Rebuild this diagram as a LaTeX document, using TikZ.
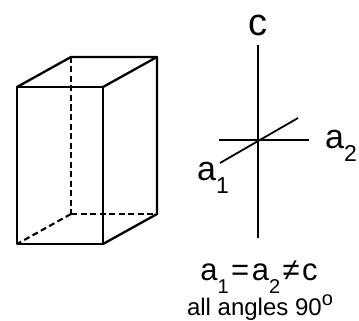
\documentclass[tikz,border=0pt]{standalone}
\usepackage{fontspec}
\setmainfont{Liberation Sans}
\usepackage{tikz}
\newcommand{\axsub}[3]{#1\raisebox{-0.4em}{\fontsize{#2}{#2}\selectfont #3}}

\begin{document}
\begin{tikzpicture}[x=1pt,y=-1pt,
  edge/.style={line width=2.3pt,black},
  hidden/.style={line width=2.1pt,black,dash pattern=on 6pt off 3.5pt},
  axis/.style={line width=1.8pt,black},
  lab/.style={inner sep=0pt,black,font=\fontsize{34}{34}\selectfont}]
  \useasboundingbox (0,0) rectangle (359,321);
  % box corners
  \coordinate (ftl) at (17,87);
  \coordinate (ftr) at (103,87);
  \coordinate (btl) at (71,57);
  \coordinate (btr) at (157,57);
  \coordinate (fbl) at (17,244);
  \coordinate (fbr) at (103,244);
  \coordinate (bbl) at (71,214);
  \coordinate (bbr) at (157,214);
  \draw[hidden] (btl) -- (bbl);
  \draw[hidden] (bbl) -- (bbr);
  \draw[hidden] (bbl) -- (fbl);
  \draw[edge,line join=round] (ftl) -- (ftr) -- (fbr) -- (fbl) -- cycle;
  \draw[edge,line join=round] (ftl) -- (btl) -- (btr) -- (ftr);
  \draw[edge,line join=round] (btr) -- (bbr) -- (fbr);
  % axes
  \node[lab,font=\fontsize{38}{38}\selectfont] (c) at (258,25) {c};
  \node[lab] (a2) at (341,146) {\axsub{a}{23}{2}};
  \node[lab] (a1) at (213,178) {\axsub{a}{23}{1}};
  \coordinate (ctop) at (258,45);
  \coordinate (cbot) at (258,238);
  \coordinate (a2l) at (219,140);
  \coordinate (a2r) at (309,140);
  \coordinate (a1f) at (220,163);
  \coordinate (a1b) at (298,118);
  \draw[axis] (ctop) -- (cbot);
  \draw[axis] (a2l) -- (a2r);
  \draw[axis] (a1f) -- (a1b);
  \node[lab,font=\fontsize{31}{31}\selectfont] (rel) at (259,277) {\axsub{a}{20}{1}\kern2.5pt=\kern2.5pt\axsub{a}{20}{2}\kern2.5pt≠\kern2.5pt c};
  \node[lab,font=\fontsize{24}{24}\selectfont] (ang) at (260,307.5) {all angles 90\raisebox{0.4em}{\fontsize{20}{20}\selectfont o}};
\end{tikzpicture}
\end{document}
